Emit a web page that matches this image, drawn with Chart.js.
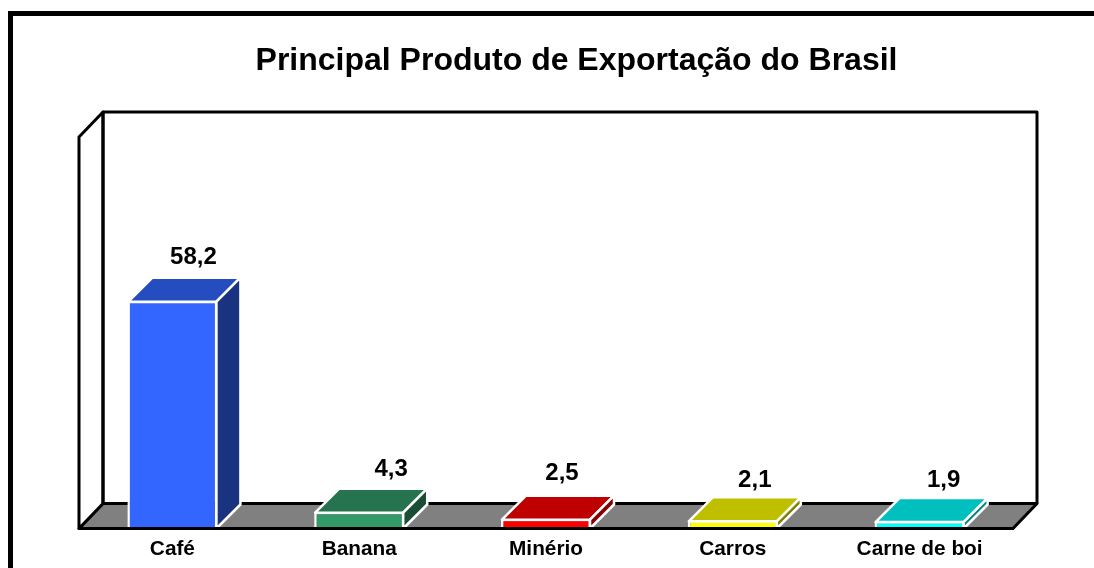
<!DOCTYPE html>
<html lang="pt-BR">
<head>
<meta charset="utf-8">
<title>Principal Produto de Exportação do Brasil</title>
<script src="https://cdn.jsdelivr.net/npm/chart.js@4/dist/chart.umd.min.js"></script>
<style>
  html, body { margin: 0; background: #fff; overflow: hidden; width: 1094px; height: 568px; }
  canvas { display: block; }
</style>
</head>
<body>
<canvas id="grafico" width="1094" height="568"></canvas>
<script>
const produtos = ['Café', 'Banana', 'Minério', 'Carros', 'Carne de boi']
const valores = [58.2, 4.3, 2.5, 2.1, 1.9]
const titulo = 'Principal Produto de Exportação do Brasil'

const coresFrente = ['#3366ff', '#339966', '#ff0000', '#ffff00', '#00ffff']
const coresTopo = ['#264dbf', '#267350', '#bf0000', '#bfbf00', '#00bfbf']
const coresLado = ['#1a3380', '#1a4d33', '#800000', '#808000', '#008080']

// rotulos do original nao ficam centrados na barra
const deslocRotuloX = [21, 32, 16, 22, 24]
const deslocRotuloY = [18, 17, 20, 15, 16]

const fundoX = 24
const fundoY = 25
const fundoYBarra = 24

const fonte = '"Liberation Sans", Arial, sans-serif'

const poligono = (ctx, pontos, preenchimento, traco, largura) => {
  ctx.beginPath()
  pontos.forEach(([x, y], i) => i ? ctx.lineTo(x, y) : ctx.moveTo(x, y))
  ctx.closePath()
  ctx.fillStyle = preenchimento
  ctx.fill()
  ctx.strokeStyle = traco
  ctx.lineWidth = largura
  ctx.lineJoin = 'round'
  ctx.stroke()
}

const moldura = {
  id: 'moldura',
  // titulo do original fica a direita do centro da area do grafico
  afterLayout(chart) {
    chart.titleBlock.left += 30.5
    chart.titleBlock.right += 30.5
  },
  beforeDraw(chart) {
    const { ctx } = chart
    ctx.save()
    ctx.strokeStyle = '#000'
    ctx.lineWidth = 5
    ctx.strokeRect(10.5, 13.5, 1137, 600)
    ctx.restore()
  }
}

// paredes e chao em falsa perspectiva
const caixa3d = {
  id: 'caixa3d',
  beforeDatasetsDraw(chart) {
    const { ctx, chartArea: { left, right, top, bottom } } = chart
    ctx.save()
    poligono(ctx, [[left, bottom], [left + fundoX, bottom - fundoY], [right + fundoX, bottom - fundoY], [right, bottom]], '#808080', '#000', 3)
    poligono(ctx, [[left, top], [left + fundoX, top - fundoY], [left + fundoX, bottom - fundoY], [left, bottom]], '#fff', '#000', 3)
    ctx.beginPath()
    ctx.moveTo(left + fundoX, bottom - fundoY)
    ctx.lineTo(left + fundoX, top - fundoY)
    ctx.lineTo(right + fundoX, top - fundoY)
    ctx.lineTo(right + fundoX, bottom - fundoY)
    ctx.strokeStyle = '#000'
    ctx.lineWidth = 3
    ctx.stroke()
    ctx.restore()
  },
  afterDatasetsDraw(chart) {
    const { ctx } = chart
    ctx.save()
    chart.getDatasetMeta(0).data.forEach((barra, i) => {
      // a borda da barra fica por dentro do retangulo, 1px ate o meio do traco
      const esq = barra.x - barra.width / 2 + 1
      const dir = barra.x + barra.width / 2 - 1
      const alto = barra.y + 1
      poligono(ctx, [[esq, alto], [esq + fundoX, alto - fundoYBarra], [dir + fundoX, alto - fundoYBarra], [dir, alto]], coresTopo[i], '#fff', 2.5)
      poligono(ctx, [[dir, alto], [dir + fundoX, alto - fundoYBarra], [dir + fundoX, barra.base - fundoYBarra], [dir, barra.base]], coresLado[i], '#fff', 2.5)

      ctx.fillStyle = '#000'
      ctx.font = 'bold 24px ' + fonte
      ctx.textAlign = 'center'
      ctx.textBaseline = 'middle'
      ctx.fillText(String(valores[i]).replace('.', ','), barra.x + deslocRotuloX[i], barra.y - fundoY - deslocRotuloY[i])
    })
    ctx.restore()
  }
}

new Chart(document.getElementById('grafico'), {
  type: 'bar',
  data: {
    labels: produtos,
    datasets: [{
      label: titulo,
      data: valores,
      backgroundColor: coresFrente,
      borderColor: '#fff',
      borderWidth: 2.5,
      barPercentage: 0.482,
      categoryPercentage: 1
    }]
  },
  options: {
    responsive: false,
    animation: false,
    devicePixelRatio: 1,
    layout: { padding: { left: 79, right: 81, top: 0, bottom: 0 } },
    plugins: {
      legend: { display: false },
      tooltip: { enabled: false },
      title: {
        display: true,
        text: titulo,
        color: '#000',
        font: { family: fonte, size: 32, weight: 'bold' },
        padding: { top: 42, bottom: 56.6 }
      }
    },
    scales: {
      x: {
        afterFit: scale => { scale.height = 39.5 },
        grid: { display: false, drawTicks: false },
        border: { display: true, color: '#000', width: 3, z: 1 },
        ticks: {
          color: '#000',
          padding: 8,
          maxRotation: 0,
          font: { family: fonte, size: 20.8, weight: 'bold' }
        }
      },
      y: { display: false, min: 0, max: 100 }
    }
  },
  plugins: [moldura, caixa3d]
})
</script>
</body>
</html>
